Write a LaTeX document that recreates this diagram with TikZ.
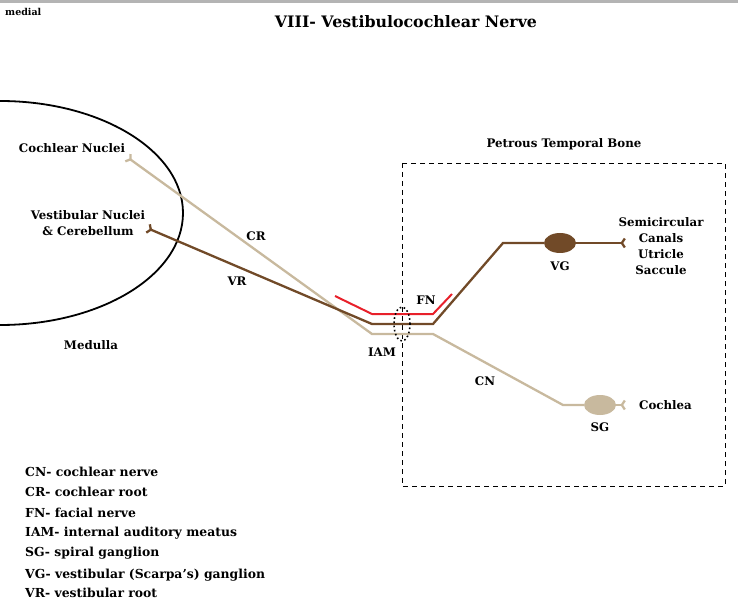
\documentclass[tikz,border=0pt]{standalone}
\usepackage{fontspec}
\setmainfont{DejaVu Serif}
\usetikzlibrary{arrows.meta,positioning,shapes.geometric}
\definecolor{Tan}{HTML}{C8B99E}
\definecolor{Brown}{HTML}{714A28}
\definecolor{Facial}{HTML}{E8202A}
\definecolor{Bar}{HTML}{B4B4B4}

\begin{document}
\begin{tikzpicture}[x=1pt,y=-1pt,font=\bfseries\fontsize{11.8}{16}\selectfont,
    >={Straight Barb[reversed,length=3pt,width=9pt]},
    lbl/.style={inner sep=1pt,align=center},
    cochlear/.style={Tan,line width=2.3pt},
    vestib/.style={Brown,line width=2.3pt},
    ganglion/.style={ellipse,minimum width=32pt,minimum height=20pt,inner sep=0pt}]
  \useasboundingbox (0,0) rectangle (738,601);
  \fill[Bar] (0,0) rectangle (738,3);
  \node[lbl,font=\bfseries\fontsize{9.5}{11}\selectfont,anchor=west] (medial) at (4,12) {medial};
  \node[lbl,font=\bfseries\fontsize{15.8}{18}\selectfont] (title) at (406,22) {VIII- Vestibulocochlear Nerve};
  % medulla
  \draw[line width=1.8pt] (0,101) arc[start angle=-90,end angle=90,x radius=183,y radius=112];
  \node[lbl] (medulla) at (91,345) {Medulla};
  \node[lbl] (cnuc) at (72,148) {Cochlear Nuclei};
  \node[lbl] (vnuc) at (88,223) {Vestibular Nuclei\\\& Cerebellum};
  % petrous bone
  \draw[line width=.8pt,dash pattern=on 5pt off 4pt] (402,163) rectangle (725,486);
  \node[lbl] (petrous) at (564,144) {Petrous Temporal Bone};
  % bends of the nerves
  \coordinate (cnend) at (127,157);
  \coordinate (vnend) at (147,228);
  \coordinate (cr1) at (372,334);
  \coordinate (cr2) at (433,334);
  \coordinate (cn1) at (563,405);
  \coordinate (vr1) at (372,324);
  \coordinate (vr2) at (433,324);
  \coordinate (vg1) at (503,243);
  \coordinate (fn0) at (335,296);
  \coordinate (fn1) at (372,314);
  \coordinate (fn2) at (433,314);
  \coordinate (fn3) at (452,294);
  \node[ganglion,fill=Brown] (vg) at (560,243) {};
  \node[ganglion,fill=Tan] (sg) at (600,405) {};
  \coordinate (vgend) at (626,243);
  \coordinate (sgend) at (626,405);
  % nerves
  \draw[cochlear,<-] (cnend) -- (cr1) -- (cr2) -- (cn1) -- (sg);
  \draw[cochlear,->] (sg) -- (sgend);
  \draw[vestib,<-] (vnend) -- (vr1) -- (vr2) -- (vg1) -- (vg);
  \draw[vestib,->] (vg) -- (vgend);
  \draw[Facial,line width=2pt] (fn0) -- (fn1) -- (fn2) -- (fn3);
  \node[draw,line width=1.6pt,dash pattern=on 1.6pt off 2.6pt,ellipse,minimum width=16pt,minimum height=34pt,inner sep=0pt] (meatus) at (402,324) {};
  \node[lbl] (iam) at (382,352) {IAM};
  \node[lbl] (fn) at (426,300) {FN};
  \node[lbl] (cr) at (256,236) {CR};
  \node[lbl] (vr) at (237,281) {VR};
  \node[lbl] (cn) at (485,381) {CN};
  \node[lbl] (vglbl) at (560,266) {VG};
  \node[lbl] (sglbl) at (600,427) {SG};
  \node[lbl,right=12pt of sgend] (cochlea) {Cochlea};
  \node[lbl] (organs) at (661,246) {Semicircular\\Canals\\Utricle\\Saccule};
  % legend
  \foreach \y/\txt [count=\i] in {472/CN- cochlear nerve,492/CR- cochlear root,513/FN- facial nerve,533/IAM- internal auditory meatus,553/SG- spiral ganglion,575/VG- vestibular (Scarpa’s) ganglion,593/VR- vestibular root}
    \node[lbl,anchor=west,font=\bfseries\fontsize{12.4}{14}\selectfont] (key\i) at (24,\y) {\txt};
\end{tikzpicture}
\end{document}
